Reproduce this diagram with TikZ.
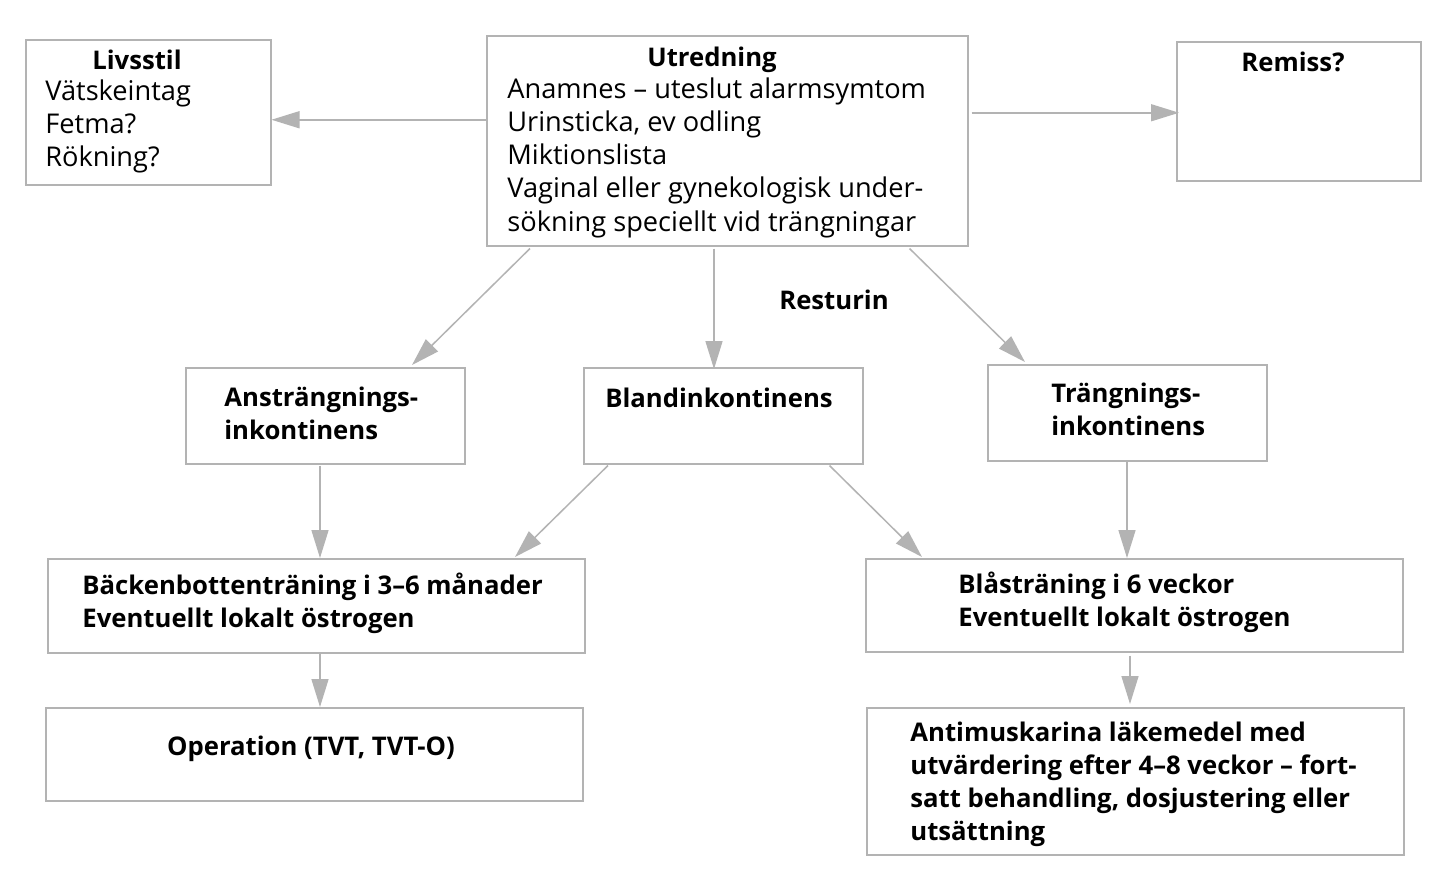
\documentclass[tikz,border=0pt]{standalone}
\usepackage{fontspec}
\setmainfont{Open Sans}
\usetikzlibrary{arrows.meta}

\definecolor{linegray}{HTML}{B3B3B3}

\begin{document}
\begin{tikzpicture}[x=0.5pt,y=-0.5pt,
    box/.style 2 args={draw=linegray, line width=0.75pt, anchor=north west, inner sep=0pt,
      minimum width=#1*0.5pt, minimum height=#2*0.5pt},
    txt/.style={align=left, anchor=base west, inner sep=0pt, font=\fontsize{13.6}{16.4}\selectfont},
    btxt/.style={txt, font=\fontsize{12.85}{16.4}\selectfont\bfseries},
    head/.style={btxt, anchor=base},
    arr/.style={draw=linegray, line width=0.75pt, -{Triangle[length=14pt,width=8.5pt]}}]

    \useasboundingbox[fill=white] (0,0) rectangle (1447,879);

    % boxes
    \node[box={245}{145}] (livs) at (25,39) {};
    \node[box={481}{210}] (utr) at (486,35) {};
    \node[box={244}{139}] (rem) at (1176,41) {};
    \node[box={279}{96}] (ans) at (185,367) {};
    \node[box={279}{96}] (bland) at (583,367) {};
    \node[box={279}{96}] (tr) at (987,364) {};
    \node[box={537}{94}] (back) at (47,558) {};
    \node[box={537}{93}] (blas) at (865,558) {};
    \node[box={537}{93}] (op) at (45,707) {};
    \node[box={537}{147}] (anti) at (866,707) {};

    % texts (base = last line)
    \node[head] (livs-h) at (137,69) {Livsstil};
    \node[txt] (livs-t) at (45,166) {Vätskeintag\\Fetma?\\Rökning?};
    \node[head] (utr-h) at (712,66) {Utredning};
    \node[txt, font=\fontsize{13.6}{16.6}\selectfont] (utr-t) at (507,231) {Anamnes – uteslut alarmsymtom\\Urinsticka, ev odling\\Miktionslista\\Vaginal eller gynekologisk under-\\sökning speciellt vid trängningar};
    \node[head] (rem-h) at (1293,71) {Remiss?};
    \node[head] (rest) at (834,309) {Resturin};
    \node[btxt] (ans-t) at (224,439) {Ansträngnings-\\inkontinens};
    \node[head] (bland-h) at (719,407) {Blandinkontinens};
    \node[btxt] (tr-t) at (1051,435) {Trängnings-\\inkontinens};
    \node[btxt] (back-t) at (82,627) {Bäckenbottenträning i 3–6 månader\\Eventuellt lokalt östrogen};
    \node[btxt] (blas-t) at (958,626) {Blåsträning i 6 veckor\\Eventuellt lokalt östrogen};
    \node[head] (op-h) at (311,755) {Operation (TVT, TVT-O)};
    \node[btxt] (anti-t) at (910,840) {Antimuskarina läkemedel med\\utvärdering efter 4–8 veckor – fort-\\satt behandling, dosjustering eller\\utsättning};

    % arrows
    \draw[arr] ([yshift=10.5pt]utr.west) -- ([yshift=10.5pt]utr.west -| livs.east);
    \draw[arr] ([xshift=1.5pt,yshift=14pt]utr.east) -- ([xshift=1.5pt,yshift=14pt]utr.east -| rem.west);
    \draw[arr] ([xshift=22pt,yshift=-1pt]utr.south west) -- ([xshift=113.5pt,yshift=1pt]ans.north west);
    \draw[arr] ([xshift=114pt,yshift=-1pt]utr.south west) -- ([xshift=114pt,yshift=-1pt]utr.south west |- bland.north);
    \draw[arr] ([xshift=-29.5pt,yshift=-1pt]utr.south east) -- ([xshift=19pt,yshift=1pt]tr.north west);
    \draw[arr] ([xshift=67.5pt,yshift=-0.5pt]ans.south west) -- ([xshift=67.5pt]ans.south west |- back.north);
    \draw[arr] ([xshift=12.5pt,yshift=-0.5pt]bland.south west) -- ([xshift=234pt,yshift=0.5pt]back.north west);
    \draw[arr] ([xshift=-17pt,yshift=-0.5pt]bland.south east) -- ([xshift=28.5pt,yshift=0.5pt]blas.north west);
    \draw[arr] ([xshift=70pt]tr.south west) -- ([xshift=70pt]tr.south west |- blas.north);
    \draw[arr] ([xshift=136.5pt]back.south west) -- ([xshift=136.5pt]back.south west |- op.north);
    \draw[arr] ([xshift=132.5pt,yshift=-1.5pt]blas.south west) -- ([xshift=132.5pt,yshift=1.5pt]blas.south west |- anti.north);

\end{tikzpicture}
\end{document}
